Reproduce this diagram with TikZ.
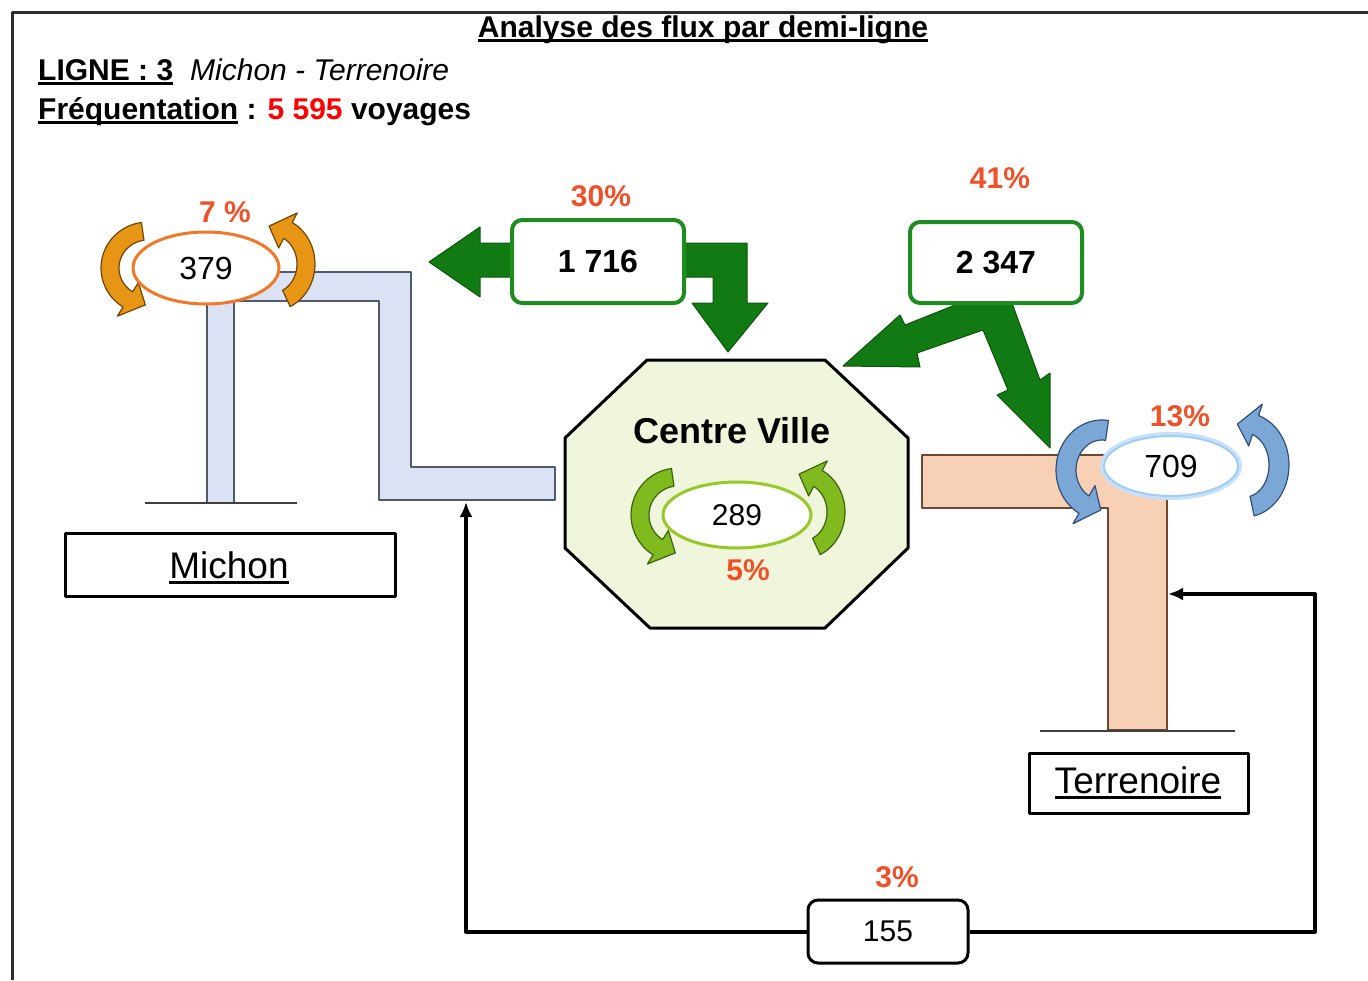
\documentclass[tikz,border=0pt]{standalone}
\usepackage{fontspec}
\setmainfont{Liberation Sans}
\usetikzlibrary{shapes.geometric,arrows.meta}
\definecolor{pct}{RGB}{240,80,40}
\definecolor{dgreen}{RGB}{18,122,18}
\definecolor{bgreen}{RGB}{30,140,30}
\definecolor{trackblue}{RGB}{218,226,243}
\definecolor{trackblueD}{RGB}{80,90,110}
\definecolor{peach}{RGB}{248,208,182}
\definecolor{peachD}{RGB}{110,70,50}
\definecolor{cvfill}{RGB}{240,246,220}
\definecolor{orA}{RGB}{230,150,20}
\definecolor{orD}{RGB}{110,70,10}
\definecolor{grA}{RGB}{128,186,30}
\definecolor{grD}{RGB}{60,100,15}
\definecolor{blA}{RGB}{122,167,214}
\definecolor{blD}{RGB}{50,80,120}
\definecolor{ellO}{RGB}{240,120,40}
\definecolor{ellG}{RGB}{150,200,40}
\definecolor{ellB}{RGB}{160,205,245}
\definecolor{framec}{RGB}{45,45,45}
\newcommand\fsz[1]{\fontsize{#1}{#1}\selectfont}
\newcommand\ulx[3]{\setbox0=\hbox{#1}\rlap{\rule[-#2]{\wd0}{#3}}\box0\relax}
\newcommand\curlarrow[9]{%
 \path[#9] plot[domain=#6:#7,samples=30] ({#1+(#3+#5)*cos(\x)},{#2+(#4+#5)*sin(\x)})
 -- ({#1+(#3+2.2*#5)*cos(#7)},{#2+(#4+2.2*#5)*sin(#7)})
 -- ({#1+#3*cos(#8)},{#2+#4*sin(#8)})
 -- ({#1+(#3-2.2*#5)*cos(#7)},{#2+(#4-2.2*#5)*sin(#7)})
 -- plot[domain=#7:#6,samples=30] ({#1+(#3-#5)*cos(\x)},{#2+(#4-#5)*sin(\x)})
 -- cycle;}
\tikzset{
  pctst/.style={text=pct, font=\fsz{30}\bfseries, inner sep=0pt},
  gbox/.style={draw=bgreen, line width=4pt, rounded corners=10pt, fill=white, inner sep=0pt},
  kbox/.style={draw=black, line width=3pt, fill=white, inner sep=0pt},
  ell/.style={ellipse, fill=white, inner sep=0pt, font=\fsz{32}},
  conn/.style={line width=4pt, -{Latex[length=15pt,width=13pt]}},
  garrow/.style={fill=dgreen, draw=dgreen!70!black, line width=1pt},
  ground/.style={line width=2.5pt, draw=black!75},
  hdr/.style={anchor=base west, inner sep=0pt}
}
\begin{document}
\begin{tikzpicture}[x=1pt,y=-1pt,line join=round]
\useasboundingbox (0,0) rectangle (1368,980);
% frame
\draw[line width=3pt, framec] (12,980) -- (12,12) -- (1368,12);
% header
\node[anchor=base, inner sep=0pt, font=\fsz{30}\bfseries] (title) at (703,37) {\ulx{Analyse des flux par demi-ligne}{5pt}{3pt}};
\node[hdr, font=\fsz{30}\bfseries] (ligne) at (38,80) {\ulx{LIGNE : 3}{5pt}{3pt}};
\node[hdr, font=\fsz{30}\itshape] (lname) at (190,80) {Michon - Terrenoire};
\node[hdr, font=\fsz{30}\bfseries] (freq) at (38,119) {\ulx{Fréquentation}{5pt}{3pt} : {\color{red}5 595} voyages};
% Michon track
\path[fill=trackblue, draw=trackblueD, line width=1.5pt] (207,503) -- (207,272) -- (411,272) -- (411,467) -- (555,467) -- (555,500) -- (379,500) -- (379,301) -- (234,301) -- (234,503) -- cycle;
\draw[ground] (145,503) -- (297,503);
% Terrenoire track
\path[fill=peach, draw=peachD, line width=1.5pt] (922,455) -- (1167,455) -- (1167,730) -- (1108,730) -- (1108,508) -- (922,508) -- cycle;
\draw[ground] (1040,731) -- (1235,731);
% Centre Ville octagon
\draw[fill=cvfill, line width=3pt] (647,360) -- (825,360) -- (908,438) -- (908,548) -- (825,628) -- (650,628) -- (565,548) -- (565,438) -- cycle;
% green flow arrows
\path[garrow] (512,243) -- (480,243) -- (480,227) -- (429,262) -- (480,297) -- (480,277) -- (512,277) -- cycle;
\path[garrow] (684,243) -- (747,243) -- (747,303) -- (768,303) -- (728,352) -- (692,303) -- (713,303) -- (713,277) -- (684,277) -- cycle;
\path[garrow] (960,303) -- (905,325) -- (900,315) -- (843,366) -- (920,367) -- (917,353) -- (983,330) -- (1008,390) -- (997,395) -- (1050,448) -- (1050,373) -- (1040,380) -- (1012,303) -- cycle;
% curved arrows
\curlarrow{148}{268}{38}{37}{9}{262}{122}{94}{fill=orA, draw=orD, line width=1.2pt}
\curlarrow{272}{264}{34}{38}{9}{65}{-62}{-95}{fill=orA, draw=orD, line width=1.2pt}
\curlarrow{678}{515}{38}{38}{9}{262}{122}{94}{fill=grA, draw=grD, line width=1.2pt}
\curlarrow{802}{512}{34}{38}{9}{65}{-62}{-95}{fill=grA, draw=grD, line width=1.2pt}
\curlarrow{1102}{470}{36}{40}{10}{278}{120}{92}{fill=blA, draw=blD, line width=1.2pt}
\curlarrow{1245}{465}{34}{42}{10}{78}{-72}{-103}{fill=blA, draw=blD, line width=1.2pt}
% ellipses
\node[ell, draw=ellO, line width=3pt, minimum width=146pt, minimum height=72pt] (e379) at (206,268) {379};
\node[ell, draw=ellG, line width=3pt, minimum width=148pt, minimum height=66pt, font=\fsz{30}] (e289) at (737,515) {289};
\node[ell, draw=ellB!60, line width=6pt, minimum width=136pt, minimum height=62pt] (e709g) at (1171,466) {};
\node[ell, draw=ellB, line width=2pt, minimum width=134pt, minimum height=60pt] (e709) at (1171,466) {709};
% boxes
\node[gbox, minimum width=172pt, minimum height=83pt, font=\fsz{32}\bfseries] (b1716) at (598,261.5) {1 716};
\node[gbox, minimum width=172pt, minimum height=81pt, font=\fsz{32}\bfseries] (b2347) at (996,262.5) {2 347};
\node[kbox, rounded corners=10pt, minimum width=160pt, minimum height=63pt, font=\fsz{30}] (b155) at (888,931.5) {155};
\node[kbox, minimum width=330pt, minimum height=63pt] (mbox) at (230,564.5) {};
\node[kbox, minimum width=219pt, minimum height=60pt] (tbox) at (1138.5,783) {};
\node[anchor=base, inner sep=0pt, font=\fsz{37}] (mtext) at (229,578) {\ulx{Michon}{6pt}{3pt}};
\node[anchor=base, inner sep=0pt, font=\fsz{37}] (ttext) at (1138,793) {\ulx{Terrenoire}{6pt}{3pt}};
\node[anchor=base, inner sep=0pt, font=\fsz{36}\bfseries] (cv) at (732,443) {Centre Ville};
% percentages
\node[pctst] (p7) at (225,212) {7 \%};
\node[pctst] (p30) at (601,196) {30\%};
\node[pctst] (p41) at (1000,178) {41\%};
\node[pctst] (p13) at (1180,416) {13\%};
\node[pctst] (p5) at (748,570) {5\%};
\node[pctst] (p3) at (897,877) {3\%};
% connector
\coordinate (mtrk) at (466,502);
\coordinate (rc) at (1315,594);
\coordinate (ttrk) at (1168,594);
\draw[conn] (b155.west) -| (mtrk);
\draw[conn] (b155.east) -| (rc) -- (ttrk);
\end{tikzpicture}
\end{document}
